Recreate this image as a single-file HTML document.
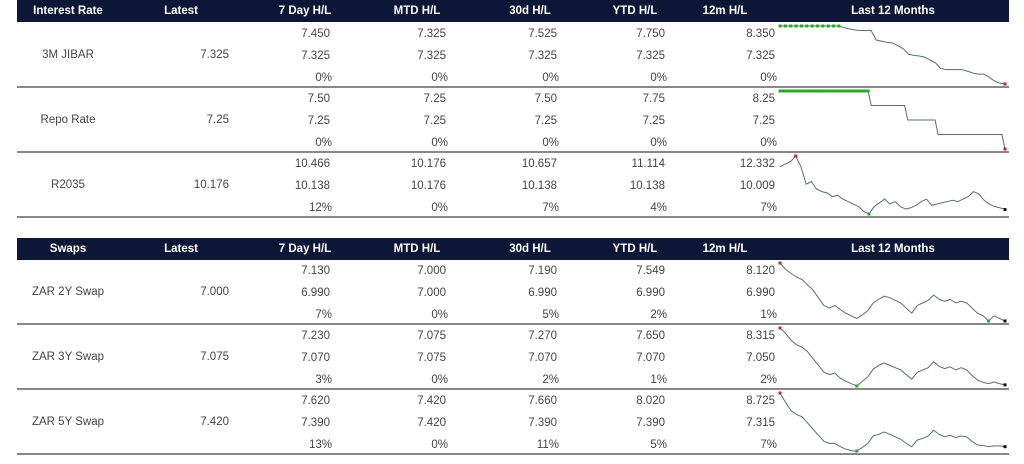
<!DOCTYPE html>
<html><head><meta charset="utf-8"><style>
body{margin:0;width:1024px;height:464px;background:#fff;font-family:"Liberation Sans",sans-serif;position:relative;overflow:hidden}
.hdr{position:absolute;left:17px;width:992px;height:22px;background:#0c1737}
.h{position:absolute;color:#fff;font-weight:bold;font-size:11.5px;top:5px;transform:translateX(-50%);white-space:nowrap}
.t{position:absolute;color:#444;font-size:11.5px;white-space:nowrap}
.r{transform:translateX(-100%)}
.c{transform:translateX(-50%)}
.ln{position:absolute;left:17px;width:992px;height:2px;background:#888}
svg{position:absolute;left:0;top:0}
</style></head><body>
<div id="root"></div>
<svg id="sp" width="1024" height="464"></svg>
<script>
const rowNames=["3M JIBAR","Repo Rate","R2035","ZAR 2Y Swap","ZAR 3Y Swap","ZAR 5Y Swap"];
const latest=["7.325","7.25","10.176","7.000","7.075","7.420"];
const highs=[["7.450","7.325","7.525","7.750","8.350"],["7.50","7.25","7.50","7.75","8.25"],["10.466","10.176","10.657","11.114","12.332"],["7.130","7.000","7.190","7.549","8.120"],["7.230","7.075","7.270","7.650","8.315"],["7.620","7.420","7.660","8.020","8.725"]];
const lows=[["7.325","7.325","7.325","7.325","7.325"],["7.25","7.25","7.25","7.25","7.25"],["10.138","10.176","10.138","10.138","10.009"],["6.990","7.000","6.990","6.990","6.990"],["7.070","7.075","7.070","7.070","7.050"],["7.390","7.420","7.390","7.390","7.315"]];
const pcts=[["0%","0%","0%","0%","0%"],["0%","0%","0%","0%","0%"],["12%","0%","7%","4%","7%"],["7%","0%","5%","2%","1%"],["3%","0%","2%","1%","2%"],["13%","0%","11%","5%","7%"]];
const sJibar=[8.35,8.35,8.35,8.35,8.35,8.35,8.35,8.35,8.35,8.35,8.35,8.35,8.32,8.3,8.28,8.27,8.27,8.27,8.1,8.08,8.06,8.05,8.0,7.95,7.85,7.83,7.82,7.8,7.75,7.7,7.6,7.58,7.58,7.58,7.58,7.55,7.52,7.5,7.5,7.45,7.38,7.34,7.325];
const sRepo=[8.25,8.25,8.25,8.25,8.25,8.25,8.25,8.25,8.25,8.25,8.25,8.25,8.25,8.25,8.25,8.25,8.25,8.25,8.25,8.25,8.25,8.25,8.25,8.25,8.25,8.25,8.25,8.25,8.25,8.25,8.0,8.0,8.0,8.0,8.0,8.0,8.0,8.0,8.0,8.0,8.0,8.0,7.75,7.75,7.75,7.75,7.75,7.75,7.75,7.75,7.75,7.75,7.5,7.5,7.5,7.5,7.5,7.5,7.5,7.5,7.5,7.5,7.5,7.5,7.5,7.5,7.5,7.5,7.5,7.5,7.5,7.5,7.5,7.5,7.25];
const sR2035=[11.9,12.0,12.1,12.33,11.9,11.2,11.3,11.0,10.9,10.85,10.7,10.75,10.6,10.5,10.4,10.3,10.1,10.0,10.3,10.45,10.6,10.4,10.5,10.3,10.2,10.25,10.35,10.5,10.6,10.35,10.4,10.45,10.5,10.55,10.5,10.6,10.7,10.9,10.8,10.55,10.4,10.3,10.25,10.18];
const s2y=[8.12,8.0,7.92,7.85,7.8,7.7,7.6,7.45,7.3,7.25,7.3,7.22,7.15,7.1,7.05,7.12,7.2,7.35,7.42,7.48,7.45,7.4,7.35,7.25,7.15,7.3,7.35,7.4,7.5,7.42,7.38,7.42,7.35,7.38,7.35,7.25,7.15,7.1,7.0,7.1,7.05,7.0];
const s3y=[8.315,8.2,8.05,7.95,7.9,7.8,7.65,7.5,7.35,7.3,7.33,7.22,7.15,7.1,7.05,7.15,7.25,7.42,7.5,7.55,7.5,7.45,7.4,7.3,7.2,7.35,7.4,7.45,7.58,7.48,7.43,7.47,7.4,7.45,7.4,7.28,7.18,7.13,7.1,7.14,7.1,7.075];
const s5y=[8.725,8.5,8.3,8.2,8.15,8.0,7.85,7.7,7.55,7.5,7.5,7.42,7.36,7.32,7.315,7.4,7.5,7.68,7.72,7.78,7.72,7.66,7.6,7.5,7.42,7.58,7.62,7.68,7.82,7.72,7.66,7.7,7.64,7.68,7.66,7.55,7.46,7.45,7.42,7.44,7.44,7.42];
const series=[sJibar,sRepo,sR2035,s2y,s3y,s5y];
const hiCol=["#2a2","#2a2","#c22","#c22","#c22","#c22"];
const loCol=["#c22","#c22","#2a2","#2a2","#2a2","#2a2"];
const rowTops=[22,87,152,259,324,389];
const root=document.getElementById('root');
function add(html){root.insertAdjacentHTML('beforeend',html);}
const hx=[68,181,305,417,530,635,725,893];
const h1=["Interest Rate","Latest","7 Day H/L","MTD H/L","30d H/L","YTD H/L","12m H/L","Last 12 Months"];
const h2=["Swaps","Latest","7 Day H/L","MTD H/L","30d H/L","YTD H/L","12m H/L","Last 12 Months"];
[[0,h1,'rates'],[238,h2,'swaps']].forEach(([y,hs,nm])=>{
 add(`<div class="hdr" style="top:${y}px"></div>`);
 hs.forEach((h,i)=>add(`<div class="h" style="left:${hx[i]}px;top:${y+5}px">${h}</div>`));
});
const cx=[330,446,557,665,775];
const svg=document.getElementById('sp');
const NS="http://www.w3.org/2000/svg";
rowNames.forEach((n,r)=>{
 const t=rowTops[r];
 add(`<div class="t c" style="left:68px;top:${t+27}px">${n}</div>`);
 add(`<div class="t r" style="left:229px;top:${t+27}px">${latest[r]}</div>`);
 cx.forEach((x,i)=>{
  add(`<div class="t r" style="left:${x}px;top:${t+6}px">${highs[r][i]}</div>`);
  add(`<div class="t r" style="left:${x}px;top:${t+28}px">${lows[r][i]}</div>`);
  add(`<div class="t r" style="left:${x+2}px;top:${t+50}px">${pcts[r][i]}</div>`);
 });
 add(`<div class="ln" style="top:${t+64}px"></div>`);
 const v=series[r],mn=Math.min(...v),mx=Math.max(...v);
 const X=i=>780+i*(1005-780)/(v.length-1);
 const Y=val=>t+62-(val-mn)/(mx-mn||1)*58;
 const p=document.createElementNS(NS,'polyline');
 p.setAttribute('points',v.map((val,i)=>X(i)+','+Y(val)).join(' '));
 p.setAttribute('fill','none');p.setAttribute('stroke','#5a6a80');p.setAttribute('stroke-width','1');
 
 
 svg.appendChild(p);
 const dot=(i,c)=>{const e=document.createElementNS(NS,'rect');e.setAttribute('x',X(i)-1.5);e.setAttribute('y',Y(v[i])-1.5);e.setAttribute('width',3);e.setAttribute('height',3);e.setAttribute('fill',c);
  
  
  svg.appendChild(e);};
 v.forEach((val,i)=>{if(val===mx)dot(i,hiCol[r]);});
 dot(v.indexOf(mn),loCol[r]);
 if(r>=2)dot(v.length-1,'#111');
});
</script>
</body></html>
